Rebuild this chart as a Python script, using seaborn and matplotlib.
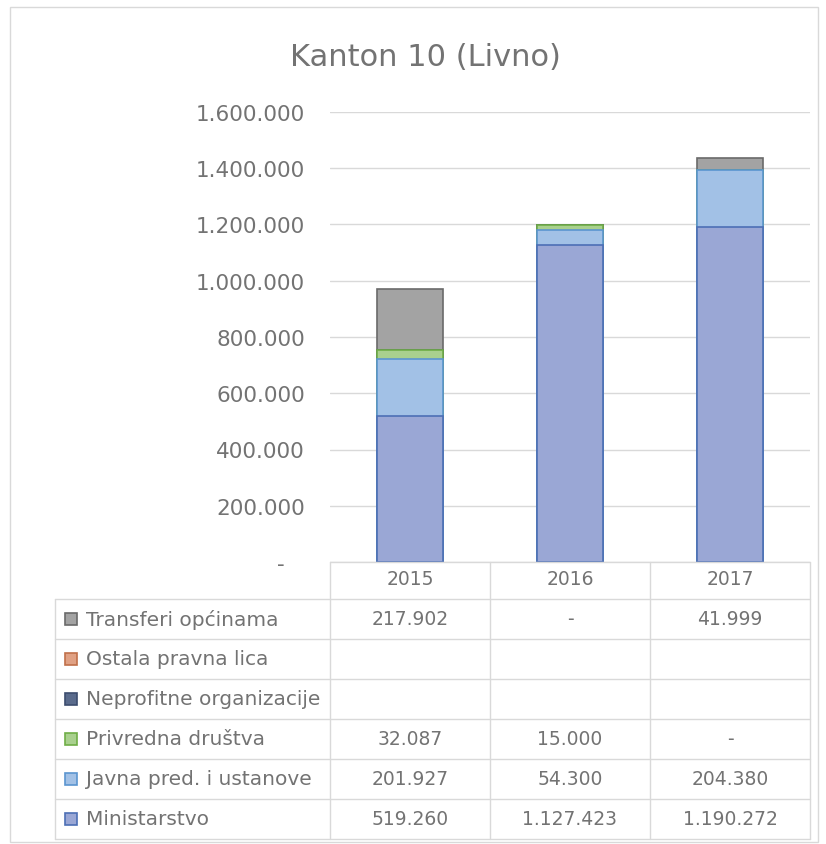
import matplotlib
matplotlib.use("Agg")
import matplotlib.pyplot as plt
import seaborn as sns
import numpy as np
import pandas as pd
from matplotlib.patches import Rectangle
from matplotlib.ticker import FuncFormatter

# ---------------- data ----------------
years = ["2015", "2016", "2017"]
series_names = ["Ministarstvo", "Javna pred. i ustanove", "Privredna društva",
                "Neprofitne organizacije", "Ostala pravna lica", "Transferi općinama"]
ministarstvo = [519260, 1127423, 1190272]
javna = [201927, 54300, 204380]
privredna = [32087, 15000, 0]
neprofitne = [0, 0, 0]
ostala = [0, 0, 0]
transferi = [217902, 0, 41999]
yticks = [0, 200000, 400000, 600000, 800000, 1000000, 1200000, 1400000, 1600000]

values = [ministarstvo, javna, privredna, neprofitne, ostala, transferi]
fills = ["#9aa7d5", "#a2c1e6", "#a9d08e", "#5a6b8c", "#e0a184", "#a3a3a3"]
edges = ["#4d6fb5", "#5b95d0", "#6fae47", "#3c4d6e", "#c0704a", "#6a6a6a"]

W, H = 826, 845
TXT = "#737373"
GRID = "#d9d9d9"
FONT = "DejaVu Sans"

sns.set_theme(style="white")
plt.rcParams["font.family"] = [FONT]

fig = plt.figure(figsize=(W / 100, H / 100), dpi=100)

# plot area in pixels
px_l, px_r, px_top, px_bot = 330, 810, 113, 563
ax = fig.add_axes([px_l / W, (H - px_bot) / H, (px_r - px_l) / W, (px_bot - px_top) / H])

df = pd.DataFrame({"year": years})
cum = np.zeros(len(years))
cums = []
for v in values:
    cum = cum + np.array(v, dtype=float)
    cums.append(cum.copy())

# draw cumulative bars from top of stack down
for i in range(len(values) - 1, -1, -1):
    d = df.copy()
    d["val"] = cums[i]
    sns.barplot(data=d, x="year", y="val", order=years, color=fills[i],
                width=0.41, edgecolor=edges[i], linewidth=1.2,
                saturation=1, ax=ax, errorbar=None)

ax.set_ylim(0, 1600000)
ax.set_xlim(-0.5, 2.5)
ax.set_yticks(yticks)

def fmt(v, pos=None):
    if v == 0:
        return "-   "
    return f"{int(v):,}".replace(",", ".")

ax.yaxis.set_major_formatter(FuncFormatter(fmt))
ax.tick_params(axis="y", length=0, pad=18, labelsize=15.5, labelcolor=TXT)
ax.set_xticks([])
ax.set_xlabel("")
ax.set_ylabel("")
ax.yaxis.grid(True, color=GRID, linewidth=1)
ax.set_axisbelow(True)
for s in ax.spines.values():
    s.set_visible(False)

# ---------------- overlay: title, table, border ----------------
ov = fig.add_axes([0, 0, 1, 1], facecolor="none")
ov.set_xlim(0, W)
ov.set_ylim(H, 0)
ov.axis("off")

ov.text(425, 57, "Kanton 10 (Livno)", ha="center", va="center",
        fontsize=22, color=TXT)

# outer border
ov.add_patch(Rectangle((10, 8), 808, 835, fill=False, edgecolor=GRID, linewidth=1))

col_x = [330, 490, 650, 810]
row_y = [600, 640, 680, 720, 760, 800, 840]
lw = 1.0
# baseline / header top
ov.plot([330, 810], [563, 563], color=GRID, lw=lw)
for x in col_x:
    ov.plot([x, x], [563, 840], color=GRID, lw=lw)
ov.plot([55, 55], [600, 840], color=GRID, lw=lw)
for y in row_y:
    ov.plot([55, 810], [y, y], color=GRID, lw=lw)

# header years
for j, yr in enumerate(years):
    cx = (col_x[j] + col_x[j + 1]) / 2
    ov.text(cx, 580, yr, ha="center", va="center", fontsize=13.5, color=TXT)

# rows: top row is last series
order = list(range(len(values) - 1, -1, -1))
for r, i in enumerate(order):
    cy = (row_y[r] + row_y[r + 1]) / 2
    ov.add_patch(Rectangle((65, cy - 6), 12, 12, facecolor=fills[i],
                           edgecolor=edges[i], linewidth=1.2))
    ov.text(86, cy, series_names[i], ha="left", va="center",
            fontsize=14.5, color=TXT)
    all_zero = all(v == 0 for v in values[i])
    for j in range(len(years)):
        cx = (col_x[j] + col_x[j + 1]) / 2
        v = values[i][j]
        if all_zero:
            s = ""
        elif v == 0:
            s = "-"
        else:
            s = f"{v:,}".replace(",", ".")
        ov.text(cx, cy, s, ha="center", va="center", fontsize=13.5, color=TXT)

fig.savefig("out.png", dpi=100)
